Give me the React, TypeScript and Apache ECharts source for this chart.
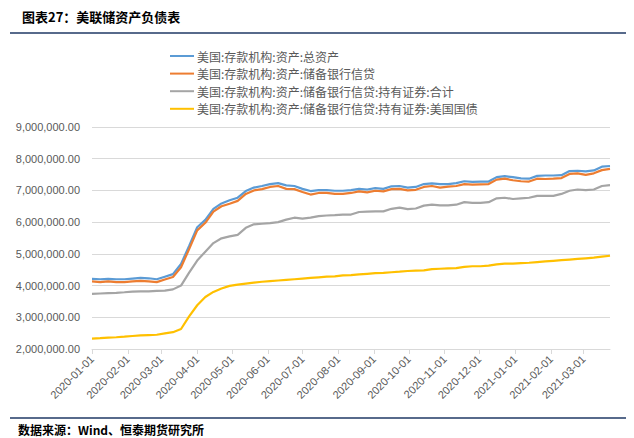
import React, { useEffect, useRef } from "react";
import * as echarts from "echarts";

// Weekly observation dates (Wednesdays)
const DATES = [
  "2020-01-01", "2020-01-08", "2020-01-15", "2020-01-22", "2020-01-29",
  "2020-02-05", "2020-02-12", "2020-02-19", "2020-02-26",
  "2020-03-04", "2020-03-11", "2020-03-18", "2020-03-25",
  "2020-04-01", "2020-04-08", "2020-04-15", "2020-04-22", "2020-04-29",
  "2020-05-06", "2020-05-13", "2020-05-20", "2020-05-27",
  "2020-06-03", "2020-06-10", "2020-06-17", "2020-06-24",
  "2020-07-01", "2020-07-08", "2020-07-15", "2020-07-22", "2020-07-29",
  "2020-08-05", "2020-08-12", "2020-08-19", "2020-08-26",
  "2020-09-02", "2020-09-09", "2020-09-16", "2020-09-23", "2020-09-30",
  "2020-10-07", "2020-10-14", "2020-10-21", "2020-10-28",
  "2020-11-04", "2020-11-11", "2020-11-18", "2020-11-25",
  "2020-12-02", "2020-12-09", "2020-12-16", "2020-12-23", "2020-12-30",
  "2021-01-06", "2021-01-13", "2021-01-20", "2021-01-27",
  "2021-02-03", "2021-02-10", "2021-02-17", "2021-02-24",
  "2021-03-03", "2021-03-10", "2021-03-17", "2021-03-24",
];

const AXIS_START = "2020-01-01";
const AXIS_END = "2021-03-24";

const MONTH_TICKS = [
  "2020-01-01", "2020-02-01", "2020-03-01", "2020-04-01", "2020-05-01",
  "2020-06-01", "2020-07-01", "2020-08-01", "2020-09-01", "2020-10-01",
  "2020-11-01", "2020-12-01", "2021-01-01", "2021-02-01", "2021-03-01",
];

const SERIES_NAMES = [
  "美国:存款机构:资产:总资产",
  "美国:存款机构:资产:储备银行信贷",
  "美国:存款机构:资产:储备银行信贷:持有证券:合计",
  "美国:存款机构:资产:储备银行信贷:持有证券:美国国债",
];

// values in millions of units
const UNIT = 1000000;

const TOTAL_ASSETS = [
  4.21, 4.20, 4.21, 4.20, 4.20, 4.22, 4.24, 4.23, 4.20, 4.28,
  4.36, 4.68, 5.25, 5.84, 6.07, 6.42, 6.59, 6.69, 6.77, 6.98,
  7.09, 7.14, 7.20, 7.23, 7.16, 7.14, 7.05, 6.98, 7.01, 7.01,
  6.99, 6.99, 7.01, 7.05, 7.03, 7.07, 7.05, 7.13, 7.14, 7.09,
  7.11, 7.20, 7.22, 7.20, 7.20, 7.23, 7.29, 7.27, 7.28, 7.28,
  7.42, 7.45, 7.42, 7.38, 7.37, 7.46, 7.47, 7.47, 7.48, 7.61,
  7.62, 7.60, 7.63, 7.75, 7.77,
];

const RESERVE_BANK_CREDIT = [
  4.13, 4.11, 4.13, 4.11, 4.11, 4.13, 4.15, 4.13, 4.11, 4.19,
  4.27, 4.58, 5.15, 5.74, 5.98, 6.33, 6.50, 6.58, 6.67, 6.89,
  7.00, 7.04, 7.11, 7.14, 7.05, 7.04, 6.95, 6.87, 6.92, 6.92,
  6.89, 6.89, 6.92, 6.97, 6.94, 6.99, 6.97, 7.04, 7.05, 7.00,
  7.02, 7.11, 7.14, 7.09, 7.12, 7.14, 7.20, 7.18, 7.19, 7.20,
  7.34, 7.37, 7.32, 7.29, 7.28, 7.37, 7.36, 7.37, 7.39, 7.52,
  7.54, 7.49, 7.54, 7.64, 7.68,
];

const SECURITIES_TOTAL = [
  3.74, 3.75, 3.76, 3.77, 3.79, 3.81, 3.82, 3.82, 3.83, 3.84,
  3.88, 4.00, 4.41, 4.79, 5.07, 5.34, 5.49, 5.55, 5.60, 5.82,
  5.93, 5.95, 5.97, 6.00, 6.08, 6.14, 6.11, 6.14, 6.19, 6.21,
  6.22, 6.24, 6.24, 6.32, 6.33, 6.34, 6.34, 6.42, 6.46, 6.41,
  6.43, 6.52, 6.55, 6.53, 6.53, 6.55, 6.63, 6.61, 6.61, 6.63,
  6.75, 6.77, 6.73, 6.75, 6.77, 6.83, 6.83, 6.83, 6.89, 6.99,
  7.03, 7.01, 7.03, 7.14, 7.17,
];

const TREASURIES = [
  2.33, 2.34, 2.36, 2.37, 2.39, 2.41, 2.43, 2.44, 2.45, 2.49,
  2.53, 2.63, 3.03, 3.38, 3.64, 3.80, 3.91, 3.99, 4.03, 4.06,
  4.09, 4.12, 4.14, 4.16, 4.18, 4.20, 4.22, 4.24, 4.26, 4.28,
  4.29, 4.32, 4.33, 4.35, 4.37, 4.39, 4.40, 4.42, 4.44, 4.46,
  4.47, 4.48, 4.52, 4.53, 4.54, 4.55, 4.59, 4.61, 4.61, 4.63,
  4.67, 4.69, 4.69, 4.71, 4.72, 4.74, 4.76, 4.78, 4.80, 4.82,
  4.84, 4.86, 4.88, 4.91, 4.94,
];

const COLORS = ["#5B9BD5", "#ED7D31", "#A5A5A5", "#FFC000"];

function buildDayCategories(start: string, end: string): string[] {
  const out: string[] = [];
  const d = new Date(start + "T00:00:00Z");
  const e = new Date(end + "T00:00:00Z");
  while (d.getTime() <= e.getTime()) {
    out.push(d.toISOString().slice(0, 10));
    d.setUTCDate(d.getUTCDate() + 1);
  }
  return out;
}

function fmt(v: number): string {
  return v.toLocaleString("en-US", { minimumFractionDigits: 2, maximumFractionDigits: 2 });
}

export default function App() {
  const ref = useRef<HTMLDivElement>(null);

  useEffect(() => {
    if (!ref.current) return;
    const chart = echarts.init(ref.current, undefined, { renderer: "svg" });
    const days = buildDayCategories(AXIS_START, AXIS_END);
    const tickSet = new Set(MONTH_TICKS);
    const seriesValues = [TOTAL_ASSETS, RESERVE_BANK_CREDIT, SECURITIES_TOTAL, TREASURIES];

    const navy = "#1F3864";
    const font = '"Noto Sans CJK SC", "Noto Sans", sans-serif';

    chart.setOption({
      animation: false,
      backgroundColor: "#ffffff",
      color: COLORS,
      grid: { left: 92, right: 24, top: 127, bottom: 89 },
      legend: {
        orient: "vertical",
        left: 165,
        top: 44,
        icon: "rect",
        itemWidth: 24,
        itemHeight: 2,
        itemGap: 3.6,
        textStyle: { color: "#595959", fontSize: 12, fontFamily: font, lineHeight: 14, padding: [0, 0, 0, -2] },
        data: SERIES_NAMES,
      },
      xAxis: {
        type: "category",
        data: days,
        boundaryGap: false,
        axisLine: { lineStyle: { color: "#D9D9D9", width: 1 } },
        axisTick: {
          show: true,
          length: 5,
          interval: (_i: number, v: string) => tickSet.has(v),
          lineStyle: { color: "#D9D9D9" },
        },
        axisLabel: {
          interval: (_i: number, v: string) => tickSet.has(v),
          rotate: 45,
          color: "#595959",
          fontSize: 11,
          fontFamily: '"Liberation Sans", Arial, sans-serif',
          margin: 8,
        },
        splitLine: { show: false },
      },
      yAxis: {
        type: "value",
        min: 2000000,
        max: 9000000,
        interval: 1000000,
        axisLine: { show: false },
        axisTick: { show: false },
        axisLabel: {
          color: "#595959",
          fontSize: 11,
          fontFamily: '"Liberation Sans", Arial, sans-serif',
          margin: 12,
          formatter: (v: number) => fmt(v),
        },
        splitLine: { lineStyle: { color: "#D9D9D9", width: 1 } },
      },
      series: SERIES_NAMES.map((name, k) => ({
        name,
        type: "line",
        symbol: "none",
        showSymbol: false,
        lineStyle: { width: 2.2, color: COLORS[k] },
        itemStyle: { color: COLORS[k] },
        data: DATES.map((d, i) => [d, seriesValues[k][i] * UNIT]),
      })),
      graphic: [
        {
          type: "text",
          left: 22,
          top: 10,
          style: {
            text: "图表27：美联储资产负债表",
            fill: "#000000",
            font: `bold 13px ${font}`,
          },
        },
        {
          type: "line",
          shape: { x1: 10, y1: 33, x2: 626, y2: 33 },
          style: { stroke: navy, lineWidth: 1.5 },
        },
        {
          type: "line",
          shape: { x1: 10, y1: 418, x2: 626, y2: 418 },
          style: { stroke: navy, lineWidth: 1.5 },
        },
        {
          type: "text",
          left: 18,
          top: 423,
          style: {
            text: "数据来源：Wind、恒泰期货研究所",
            fill: "#000000",
            font: `bold 12px ${font}`,
          },
        },
      ],
    });

    return () => chart.dispose();
  }, []);

  return (
    <div
      ref={ref}
      style={{ position: "fixed", left: 0, top: 0, width: 634, height: 438, background: "#fff" }}
    />
  );
}
